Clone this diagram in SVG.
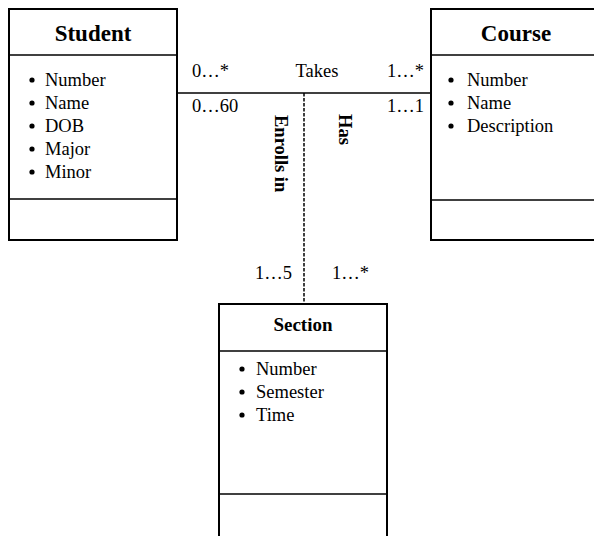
<svg xmlns="http://www.w3.org/2000/svg" width="594" height="536" viewBox="0 0 594 536">
<style>
.box{fill:#fff;stroke:#000;stroke-width:2}
.div{stroke:#000;stroke-width:1.5}
.title{font-family:"Liberation Serif","Times New Roman",serif;font-weight:bold;font-size:23px;text-anchor:middle;fill:#000}
.t2{font-size:19px}
.item{font-family:"Liberation Serif","Times New Roman",serif;font-size:18.5px;fill:#000}
.lbl{font-family:"Liberation Serif","Times New Roman",serif;font-size:18.5px;fill:#000}
.vlbl{font-family:"Liberation Serif","Times New Roman",serif;font-size:18.5px;font-weight:bold;fill:#000}
.bul{fill:#000}
.conn{stroke:#000;stroke-width:1.5;fill:none}
.dash{stroke-dasharray:3.5 1.5}
</style>
<rect width="594" height="536" fill="#fff"/>
<g id="connectors">
<line class="conn" x1="177" y1="93" x2="431" y2="93"/>
<line class="conn dash" x1="304" y1="93" x2="304" y2="304"/>
<text class="lbl" x="192" y="77">0…*</text>
<text class="lbl" x="317" y="77" text-anchor="middle">Takes</text>
<text class="lbl" x="424" y="77" text-anchor="end">1…*</text>
<text class="lbl" x="192" y="112">0…60</text>
<text class="lbl" x="424" y="112" text-anchor="end">1…1</text>
<text class="vlbl" transform="translate(275,115) rotate(90)">Enrolls in</text>
<text class="vlbl" transform="translate(339,114) rotate(90)">Has</text>
<text class="lbl" x="292" y="279" text-anchor="end">1…5</text>
<text class="lbl" x="332" y="279">1…*</text>
</g>
<g id="student">
<rect class="box" x="9" y="9" width="168" height="231"/>
<line class="div" x1="9" y1="55" x2="177" y2="55"/>
<line class="div" x1="9" y1="199" x2="177" y2="199"/>
<text class="title" x="93" y="41">Student</text>
<circle class="bul" cx="32" cy="80" r="2.6"/><text class="item" x="45" y="86">Number</text>
<circle class="bul" cx="32" cy="103" r="2.6"/><text class="item" x="45" y="109">Name</text>
<circle class="bul" cx="32" cy="126" r="2.6"/><text class="item" x="45" y="132">DOB</text>
<circle class="bul" cx="32" cy="149" r="2.6"/><text class="item" x="45" y="155">Major</text>
<circle class="bul" cx="32" cy="172" r="2.6"/><text class="item" x="45" y="178">Minor</text>
</g>
<g id="course">
<rect class="box" x="431" y="9" width="169" height="231"/>
<line class="div" x1="431" y1="55" x2="600" y2="55"/>
<line class="div" x1="431" y1="200" x2="600" y2="200"/>
<text class="title" x="516" y="41">Course</text>
<circle class="bul" cx="451" cy="80" r="2.6"/><text class="item" x="467" y="86">Number</text>
<circle class="bul" cx="451" cy="103" r="2.6"/><text class="item" x="467" y="109">Name</text>
<circle class="bul" cx="451" cy="126" r="2.6"/><text class="item" x="467" y="132">Description</text>
</g>
<g id="section">
<rect class="box" x="219" y="304" width="168" height="245"/>
<line class="div" x1="219" y1="351" x2="387" y2="351"/>
<line class="div" x1="219" y1="494" x2="387" y2="494"/>
<text class="title t2" x="303" y="331">Section</text>
<circle class="bul" cx="242" cy="369" r="2.6"/><text class="item" x="256" y="375">Number</text>
<circle class="bul" cx="242" cy="392" r="2.6"/><text class="item" x="256" y="398">Semester</text>
<circle class="bul" cx="242" cy="415" r="2.6"/><text class="item" x="256" y="421">Time</text>
</g>
</svg>
